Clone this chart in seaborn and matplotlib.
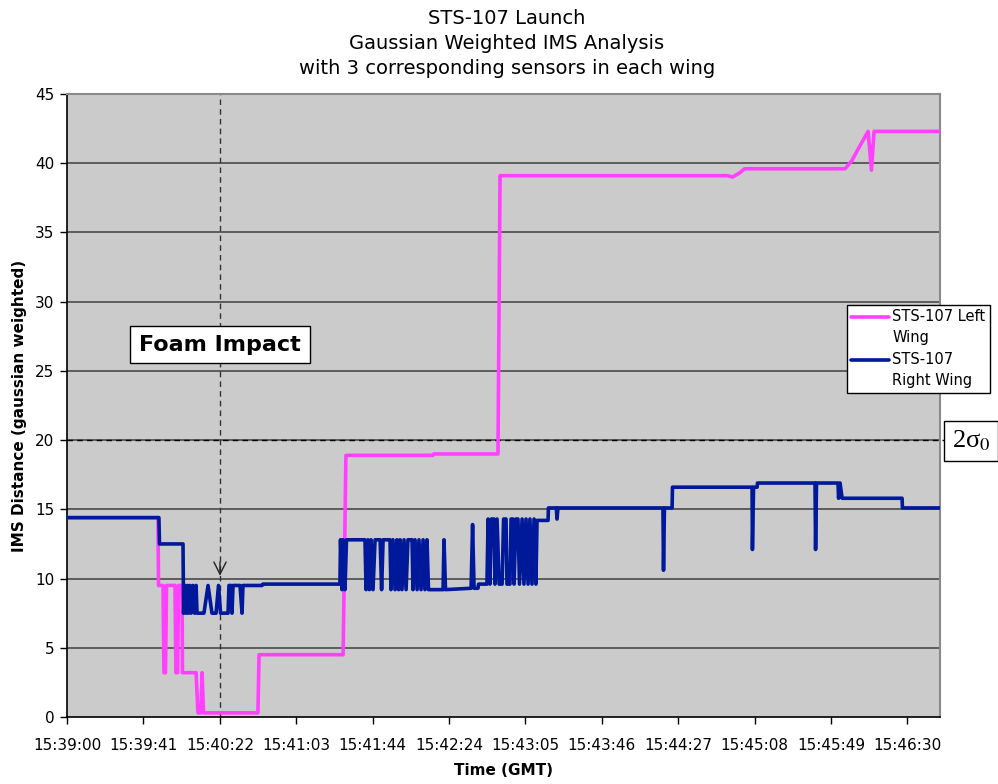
import pandas as pd
import numpy as np
import matplotlib
matplotlib.use("Agg")
import matplotlib.pyplot as plt
import seaborn as sns
from matplotlib.lines import Line2D
from matplotlib.legend_handler import HandlerLine2D

#Data: seconds after 15:39:00 and IMS distance
left_t=[0,48.7,49.0,51.4,51.9,52.7,53.3,57.8,58.3,59.2,59.7,61.6,61.8,69.1,70.1,71.7,72.3,73.1,
        102.2,102.8,147.8,149.3,195.9,196.4,230.7,231.8,353.6,356.3,360.0,362.7,416.5,420.2,
        423.4,428.8,430.6,432.0,467.3]
left_v=[14.4,14.4,9.5,9.5,3.2,3.2,9.5,9.5,3.2,3.2,9.5,9.5,3.2,3.2,0.3,0.3,3.2,0.3,
        0.3,4.5,4.5,18.9,18.9,19.0,19.0,39.1,39.1,39.0,39.3,39.6,39.6,40.2,
        41.0,42.3,39.5,42.3,42.3]

right_t=[0,49.2,49.5,62.1,62.4,63.2,63.7,64.5,65.0,65.8,66.4,67.4,68.3,69.1,69.6,73.3,75.5,77.6,
         79.8,81.1,82.2,86.2,86.7,87.8,88.3,88.9,92.6,93.7,94.2,104.4,104.9,146.1,146.4,147.2,
         147.7,148.8,149.6,159.5,160.1,161.1,161.9,162.7,163.8,164.9,167.6,168.4,169.2,172.9,
         173.4,174.5,175.6,176.6,177.5,178.3,179.3,180.4,181.5,182.5,184.7,185.2,186.3,187.4,
         188.4,189.5,190.6,191.6,192.7,193.5,201.3,201.8,202.6,216.3,217.1,217.9,220.0,220.3,
         224.8,225.4,226.4,227.2,228.6,229.1,230.2,231.3,232.9,233.7,235.0,235.5,237.1,237.7,
         238.7,239.3,240.3,241.4,242.2,243.6,244.6,245.7,246.8,247.8,248.9,250.0,251.0,251.6,
         257.5,257.7,261.9,262.3,262.8,319.0,319.3,319.8,323.9,324.1,366.7,366.9,367.5,369.4,
         369.6,400.4,400.7,401.2,412.7,413.0,413.8,414.9,447.0,447.2,467.3]
right_v=[14.4,14.4,12.5,12.5,7.5,9.5,7.5,9.5,7.5,9.5,7.5,9.5,7.5,9.5,7.5,7.5,9.5,7.5,
         7.5,9.5,7.5,7.5,9.5,9.5,7.5,9.5,9.5,7.5,9.5,9.5,9.6,9.6,12.8,9.2,
         12.8,9.2,12.8,12.8,9.2,12.8,9.2,12.8,9.2,12.8,12.8,9.2,12.8,12.8,
         9.2,12.8,9.2,12.8,9.2,12.8,9.2,12.8,9.2,12.8,12.8,9.2,12.8,9.2,
         12.8,9.2,12.8,9.2,12.8,9.2,9.2,12.8,9.2,9.3,13.9,9.3,9.3,9.6,
         9.6,14.3,9.6,14.3,14.3,9.6,14.3,9.6,9.6,14.3,14.3,9.6,9.6,14.3,
         14.3,9.6,14.3,14.3,9.6,14.3,9.6,14.3,9.6,14.3,9.6,14.3,9.6,14.2,
         14.2,15.1,15.1,14.3,15.1,15.1,10.6,15.1,15.1,16.6,16.6,12.1,16.6,16.6,
         16.9,16.9,12.1,16.9,16.9,15.8,16.9,15.8,15.8,15.1,15.1]

series_names=["STS-107 Left\nWing","STS-107\nRight Wing"]
tick_step=40.9
tick_labels=["15:39:00","15:39:41","15:40:22","15:41:03","15:41:44","15:42:24",
             "15:43:05","15:43:46","15:44:27","15:45:08","15:45:49","15:46:30"]
foam_t=81.9
sigma_level=20

df=pd.concat([pd.DataFrame({"t":left_t,"v":left_v,"wing":series_names[0]}),
              pd.DataFrame({"t":right_t,"v":right_v,"wing":series_names[1]})])

sns.set_style("white")
plt.rcParams["font.family"]=["DejaVu Sans"]
plt.rcParams["mathtext.fontset"]="stix"
for k in ["text.color","axes.labelcolor","xtick.color","ytick.color"]:
    plt.rcParams[k]="black"

fig=plt.figure(figsize=(9.98,7.84),dpi=100)
ax=fig.add_axes([67/998,67/784,873/998,623/784])
ax.set_facecolor("#CBCBCB")

#Gridlines
for yv in range(5,45,5):
    ax.axhline(yv,color="#4a4a4a",lw=1.2,zorder=1)

palette={series_names[0]:"#FF40FF",series_names[1]:"#00189A"}
sns.lineplot(data=df,x="t",y="v",hue="wing",palette=palette,estimator=None,sort=False,
             lw=2.6,ax=ax,zorder=3,legend=False)

ax.set_xlim(0,467.3)
ax.set_ylim(0,45)
ax.set_xticks([i*tick_step for i in range(len(tick_labels))])
ax.set_xticklabels(tick_labels,fontsize=11)
ax.set_yticks(range(0,46,5))
ax.tick_params(axis="y",labelsize=11,direction="out",length=5,width=1,left=True,pad=4)
ax.tick_params(axis="x",direction="out",length=5,width=1,bottom=True,pad=10)
for s in ["left","bottom"]:
    ax.spines[s].set_color("black")
    ax.spines[s].set_linewidth(1.2)
for s in ["top","right"]:
    ax.spines[s].set_color("#8a8a8a")
    ax.spines[s].set_linewidth(1.5)

ax.set_xlabel("Time (GMT)",fontsize=11,fontweight="bold",labelpad=7)
ax.set_ylabel("IMS Distance (gaussian weighted)",fontsize=11,fontweight="bold",labelpad=6)

fig.text(0.508,0.988,"STS-107 Launch\nGaussian Weighted IMS Analysis\nwith 3 corresponding sensors in each wing",
         ha="center",va="top",fontsize=14,linespacing=1.4)

#Foam impact marker
ax.axvline(foam_t,color="#333333",lw=1,ls=(0,(4,3)),zorder=2)
ax.annotate("",xy=(foam_t,10.0),xytext=(foam_t,11.4),
            arrowprops=dict(arrowstyle="->",color="#222222",lw=1,mutation_scale=22),zorder=4)
ax.text(foam_t,26.9,"Foam Impact",ha="center",va="center",fontsize=16,fontweight="bold",zorder=5,
        bbox=dict(boxstyle="square,pad=0.4",fc="white",ec="black",lw=1))

#2 sigma line
sig_line=Line2D([0,1.01],[sigma_level,sigma_level],transform=ax.get_yaxis_transform(),
                color="black",lw=1,ls=(0,(4,3)),clip_on=False,zorder=2)
ax.add_line(sig_line)
fig.text(971/998,1-441/784,"2σ$_0$",ha="center",va="center",fontsize=19,family="Liberation Serif",
         bbox=dict(boxstyle="square,pad=0.3",fc="white",ec="black",lw=1))

#Legend, handle level with the first text line
class TopLine(HandlerLine2D):
    def create_artists(self,legend,orig_handle,xdescent,ydescent,width,height,fontsize,trans):
        arts=super().create_artists(legend,orig_handle,xdescent,ydescent,width,height,fontsize,trans)
        for a in arts:
            a.set_ydata(np.asarray(a.get_ydata())+0.75*fontsize)
        return arts

handles=[Line2D([],[],color=palette[n],lw=2.6) for n in series_names]
leg=ax.legend(handles,series_names,loc="upper left",bbox_to_anchor=(0.8935,0.662),fontsize=10.5,
              frameon=True,fancybox=False,framealpha=1,facecolor="white",handlelength=2.6,
              handletextpad=0.2,borderpad=0.3,labelspacing=0.5,borderaxespad=0,
              handler_map={Line2D:TopLine()})
for t in leg.get_texts():
    t.set_linespacing(1.5)
leg.get_frame().set_edgecolor("black")
leg.get_frame().set_linewidth(1)
leg.set_zorder(6)

plt.savefig("out.png",dpi=100)
